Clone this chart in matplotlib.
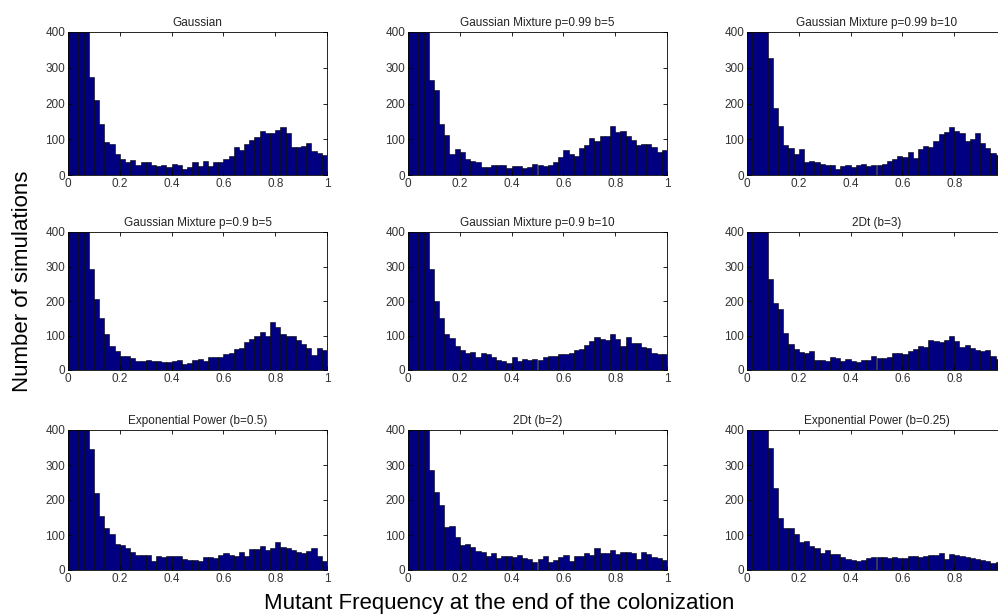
import numpy as np
import matplotlib
matplotlib.use("Agg")
import matplotlib.pyplot as plt

plt.rcParams["font.family"] = ["Liberation Sans", "DejaVu Sans"]

# 50 bins of width 0.02 on [0, 1]; counts (clipped at 400)
bin_edges = np.linspace(0, 1, 51)

titles = [
    "Gaussian",
    "Gaussian Mixture p=0.99 b=5",
    "Gaussian Mixture p=0.99 b=10",
    "Gaussian Mixture p=0.9 b=5",
    "Gaussian Mixture p=0.9 b=10",
    "2Dt (b=3)",
    "Exponential Power (b=0.5)",
    "2Dt (b=2)",
    "Exponential Power (b=0.25)",
]

gaussian = [400, 400, 400, 400, 275, 210, 143, 92, 87, 60,
            45, 37, 42, 28, 37, 35, 28, 25, 27, 22,
            30, 27, 18, 23, 37, 25, 40, 25, 37, 37,
            45, 52, 77, 70, 88, 98, 105, 122, 117, 118,
            127, 135, 118, 77, 77, 82, 90, 68, 62, 57]
gm_099_b5 = [400, 400, 400, 400, 265, 237, 143, 112, 58, 73,
             65, 45, 38, 35, 22, 22, 28, 27, 28, 20,
             25, 25, 20, 22, 30, 28, 25, 27, 35, 50,
             70, 58, 53, 75, 85, 103, 95, 110, 110, 137,
             120, 123, 108, 98, 85, 88, 88, 78, 65, 70]
gm_099_b10 = [400, 400, 400, 400, 327, 188, 138, 83, 75, 58,
              73, 35, 40, 35, 30, 27, 27, 18, 25, 27,
              22, 27, 30, 25, 27, 27, 30, 38, 45, 52,
              50, 63, 48, 73, 80, 78, 95, 115, 120, 133,
              122, 118, 95, 102, 118, 90, 75, 62, 55, 50]
gm_09_b5 = [400, 400, 400, 400, 292, 205, 150, 105, 70, 55,
            42, 40, 35, 27, 25, 30, 27, 25, 22, 22,
            25, 30, 17, 20, 28, 33, 25, 38, 38, 38,
            45, 50, 60, 65, 80, 90, 100, 110, 100, 140,
            125, 105, 98, 100, 88, 75, 65, 43, 63, 58]
gm_09_b10 = [400, 400, 400, 400, 293, 200, 150, 105, 92, 70,
             57, 50, 52, 37, 48, 45, 38, 30, 25, 20,
             38, 27, 32, 30, 32, 30, 38, 42, 42, 45,
             45, 48, 57, 62, 72, 83, 95, 90, 88, 105,
             90, 70, 97, 78, 78, 68, 65, 50, 45, 47]
t2d_b3 = [400, 400, 400, 400, 265, 193, 178, 107, 75, 62,
          52, 48, 55, 30, 30, 25, 37, 35, 27, 32,
          25, 22, 30, 30, 42, 35, 35, 38, 48, 48,
          45, 55, 62, 70, 68, 88, 85, 80, 87, 100,
          85, 68, 72, 65, 58, 55, 57, 42, 33, 40]
exp_b05 = [400, 400, 400, 400, 345, 220, 155, 120, 102, 75,
           72, 62, 52, 42, 42, 42, 25, 40, 38, 40,
           40, 40, 32, 30, 28, 25, 38, 38, 35, 42,
           50, 42, 40, 52, 40, 60, 60, 70, 58, 62,
           80, 65, 62, 58, 52, 50, 55, 62, 40, 25]
t2d_b2 = [400, 400, 400, 400, 285, 222, 185, 122, 125, 95,
          72, 75, 65, 55, 52, 40, 48, 35, 40, 40,
          37, 42, 35, 32, 22, 32, 40, 22, 28, 38,
          42, 25, 40, 40, 50, 42, 62, 50, 48, 58,
          45, 52, 52, 50, 32, 52, 45, 38, 35, 30]
exp_b025 = [400, 400, 400, 400, 350, 235, 150, 120, 120, 103,
            80, 82, 68, 62, 48, 58, 45, 45, 38, 32,
            28, 25, 30, 35, 37, 38, 37, 35, 38, 35,
            35, 40, 40, 38, 40, 42, 42, 50, 32, 45,
            42, 40, 38, 35, 32, 28, 25, 20, 22, 20]

counts = [gaussian, gm_099_b5, gm_099_b10,
          gm_09_b5, gm_09_b10, t2d_b3,
          exp_b05, t2d_b2, exp_b025]

xticks = [0, 0.2, 0.4, 0.6, 0.8, 1]
xtick_labels = ["0", "0.2", "0.4", "0.6", "0.8", "1"]
yticks = [0, 100, 200, 300, 400]

W, H = 998, 616
fig = plt.figure(figsize=(W / 100, H / 100), dpi=100)

col_left = [68, 408, 747]
row_top = [32, 232, 430]
row_h = [143, 138, 140]
ax_w = 259

for i, (title, c) in enumerate(zip(titles, counts)):
    r, k = divmod(i, 3)
    ax = fig.add_axes([col_left[k] / W, 1 - (row_top[r] + row_h[r]) / H,
                       ax_w / W, row_h[r] / H])
    ax.bar(bin_edges[:-1], c, width=np.diff(bin_edges), align="edge",
           color="#000080", edgecolor="black", linewidth=0.4)
    ax.set_xlim(0, 1)
    ax.set_ylim(0, 400)
    ax.set_xticks(xticks)
    # right column runs past the figure edge, its "1" is not visible
    labels = xtick_labels[:-1] + [""] if k == 2 else xtick_labels
    ax.set_xticklabels(labels)
    ax.set_yticks(yticks)
    ax.tick_params(direction="in", top=True, right=True, labelsize=8.5,
                   labelcolor="#333333", length=3, width=0.6, pad=2)
    for s in ax.spines.values():
        s.set_linewidth(0.6)
    ax.set_title(title, fontsize=8.5, pad=4, color="#222222")

fig.text(23 / W, 1 - 281 / H, "Number of simulations", rotation=90,
         ha="center", va="center", fontsize=16)
fig.text(499 / W, 1 - 603 / H, "Mutant Frequency at the end of the colonization",
         ha="center", va="center", fontsize=16)

fig.savefig("out.png", dpi=100)
